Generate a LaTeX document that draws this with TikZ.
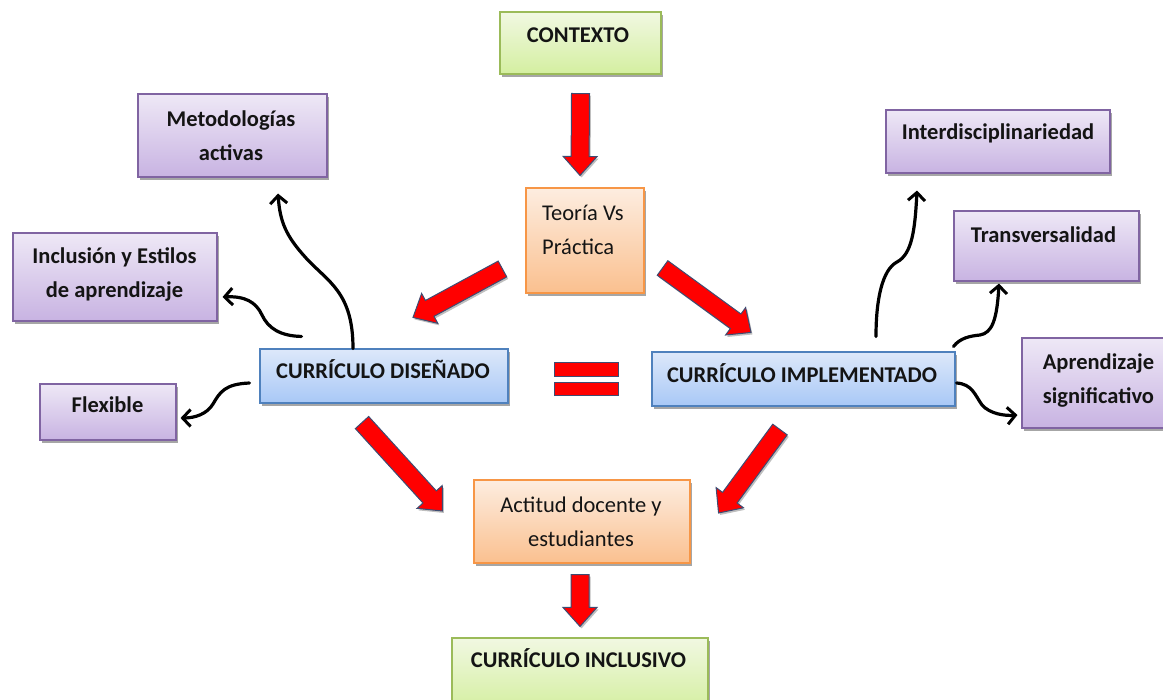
\documentclass[tikz,border=0pt]{standalone}
\usepackage{fontspec}
\setmainfont{Carlito}
\usetikzlibrary{calc,shadows,arrows.meta}
\definecolor{grnE}{HTML}{9BBB59}\definecolor{grnT}{HTML}{F1F8E2}\definecolor{grnB}{HTML}{D4EFA0}
\definecolor{orgE}{HTML}{F79646}\definecolor{orgT}{HTML}{FDEDE0}\definecolor{orgB}{HTML}{FAC08F}
\definecolor{purE}{HTML}{8064A2}\definecolor{purT}{HTML}{EEE8F6}\definecolor{purB}{HTML}{C8B3E2}
\definecolor{bluE}{HTML}{4F81BD}\definecolor{bluT}{HTML}{DDE8FA}\definecolor{bluB}{HTML}{A8C8F6}
\definecolor{arrE}{HTML}{3E4C72}
\tikzset{
  base/.style={line width=1.1pt, inner sep=0pt, drop shadow={shadow xshift=2pt, shadow yshift=-3pt, opacity=0.35, fill=black}},
  gbox/.style={base, draw=grnE, top color=grnT, bottom color=grnB},
  obox/.style={base, draw=orgE, top color=orgT, bottom color=orgB},
  pbox/.style={base, draw=purE, top color=purT, bottom color=purB},
  bbox/.style={base, draw=bluE, top color=bluT, bottom color=bluB},
  btxt/.style={font=\fontsize{22.5}{34.5}\selectfont\bfseries, align=center, inner sep=0pt, anchor=base, text=black!92},
  rtxt/.style={font=\fontsize{22.5}{34.5}\selectfont, align=left, inner sep=0pt, anchor=base west, text=black!92},
  ctxt/.style={font=\fontsize{22.5}{34.5}\selectfont, align=center, inner sep=0pt, anchor=base, text=black!92},
  curvy/.style={line width=3.2pt, line cap=round, -{Straight Barb[length=8pt,width=17pt,line width=3pt]}},
  redarrow/.style={fill=red, draw=arrE, line width=1pt, line join=miter,
    drop shadow={shadow xshift=1.5pt, shadow yshift=-2pt, opacity=0.25, fill=black},
    to path={
      ($(\tikztostart)!9pt!90:(\tikztotarget)$)
      -- ($(\tikztotarget)!19pt!(\tikztostart)!9pt!-90:(\tikztostart)$)
      -- ($(\tikztotarget)!19pt!(\tikztostart)!17pt!-90:(\tikztostart)$)
      -- (\tikztotarget)
      -- ($(\tikztotarget)!19pt!(\tikztostart)!17pt!90:(\tikztostart)$)
      -- ($(\tikztotarget)!19pt!(\tikztostart)!9pt!90:(\tikztostart)$)
      -- ($(\tikztostart)!9pt!-90:(\tikztotarget)$)
      -- cycle}},
  eqbar/.style={fill=red, draw=arrE, line width=1pt}
}
\begin{document}
\begin{tikzpicture}[x=1pt,y=-1pt]
\useasboundingbox (0,0) rectangle (1163,700);
\fill[white] (0,0) rectangle (1163,700);
\clip (0,0) rectangle (1163,700);
% boxes
\node[gbox, minimum width=161, minimum height=62] (ctx) at (580.5,43) {};
\node[obox, minimum width=118, minimum height=105] (teo) at (585,240.5) {};
\node[pbox, minimum width=189, minimum height=83] (met) at (232.5,135.5) {};
\node[pbox, minimum width=204, minimum height=88] (inc) at (115,277) {};
\node[pbox, minimum width=136, minimum height=56] (flx) at (108,412) {};
\node[bbox, minimum width=248, minimum height=54] (dis) at (384,376) {};
\node[bbox, minimum width=303, minimum height=54] (imp) at (803.5,379) {};
\node[pbox, minimum width=224, minimum height=63] (itd) at (998,141.5) {};
\node[pbox, minimum width=185, minimum height=70] (trv) at (1046.5,246) {};
\node[pbox, minimum width=152, minimum height=90] (apr) at (1098,383) {};
\node[obox, minimum width=216, minimum height=83] (act) at (582,521.5) {};
\node[gbox, minimum width=256, minimum height=72] (cin) at (580,674) {};
% texts (multi-line nodes: base = last line)
\node[btxt] (ctxT) at (578,43) {CONTEXTO};
\node[rtxt] (teoT) at (542,255) {Teoría Vs\\Práctica};
\node[btxt] (metT) at (231,161) {Metodologías\\activas};
\node[btxt] (incT) at (114.5,298) {Inclusión y Estilos\\de aprendizaje};
\node[btxt] (flxT) at (107.5,413) {Flexible};
\node[btxt] (disT) at (383,379) {CURRÍCULO DISEÑADO};
\node[btxt] (impT) at (802,383) {CURRÍCULO IMPLEMENTADO};
\node[btxt] (itdT) at (998,140) {Interdisciplinariedad};
\node[btxt] (trvT) at (1043.5,243) {Transversalidad};
\node[btxt] (aprT) at (1098.5,404) {Aprendizaje\\significativo};
\node[ctxt] (actT) at (581,547) {Actitud docente y\\estudiantes};
\node[btxt] (cinT) at (578.5,667) {CURRÍCULO INCLUSIVO};
% red arrow ends
\coordinate (r1s) at ([yshift=-19pt]ctx.south);
\coordinate (r1e) at ([xshift=-5pt,yshift=12pt]teo.north);
\coordinate (r2s) at ([xshift=-23pt,yshift=-28.5pt]teo.west);
\coordinate (r2e) at ([xshift=29pt,yshift=31pt]dis.north);
\coordinate (r3s) at ([xshift=18pt,yshift=-27.5pt]teo.east);
\coordinate (r3e) at ([xshift=-52.5pt,yshift=19pt]imp.north);
\coordinate (r4s) at ([xshift=-22pt,yshift=-19pt]dis.south);
\coordinate (r4e) at ([xshift=-31pt,yshift=10.5pt]act.west);
\coordinate (r5s) at ([xshift=-23.5pt,yshift=-23pt]imp.south);
\coordinate (r5e) at ([xshift=28pt,yshift=8.5pt]act.east);
\coordinate (r6s) at ([xshift=-2pt,yshift=-11pt]act.south);
\coordinate (r6e) at ([yshift=11pt]cin.north);
\draw[redarrow] (r1s) to (r1e);
\draw[redarrow] (r2s) to (r2e);
\draw[redarrow] (r3s) to (r3e);
\draw[redarrow] (r4s) to (r4e);
\draw[redarrow] (r5s) to (r5e);
\draw[redarrow] (r6s) to (r6e);
% equals sign
\draw[eqbar] (554,363) rectangle (618,377);
\draw[eqbar] (554,383) rectangle (618,396);
% black curved connectors
\draw[curvy] ([xshift=-31pt]dis.north) .. controls (353,292) and (328,282) .. (306,258)
   .. controls (286,236) and (280,222) .. ([xshift=45.5pt,yshift=-16pt]met.south);
\draw[curvy] ([xshift=42pt,yshift=12pt]dis.north west) .. controls (280,336) and (268,328) .. (262,315)
   .. controls (256,302) and (245,296) .. ([xshift=5pt,yshift=-20pt]inc.east);
\draw[curvy] ([xshift=-10pt,yshift=-7pt]dis.west) .. controls (225,384) and (220,392) .. (213,404)
   .. controls (207,414) and (195,418) .. ([xshift=4pt,yshift=-6pt]flx.east);
\draw[curvy] ([xshift=72.5pt,yshift=15pt]imp.north) .. controls (876,300) and (882,270) .. (897,262)
   .. controls (912,254) and (915,230) .. ([xshift=-81pt,yshift=-17pt]itd.south);
\draw[curvy] ([xshift=-2pt,yshift=5pt]imp.north east) .. controls (960,338) and (970,336) .. (980,335)
   .. controls (992,333) and (997,320) .. ([xshift=-47.5pt,yshift=-2pt]trv.south);
\draw[curvy] ([xshift=1pt,yshift=-4pt]imp.east) .. controls (972,384) and (975,395) .. (982,405)
   .. controls (990,414) and (1005,416) .. ([xshift=-4pt,yshift=-32pt]apr.west);
\end{tikzpicture}
\end{document}
